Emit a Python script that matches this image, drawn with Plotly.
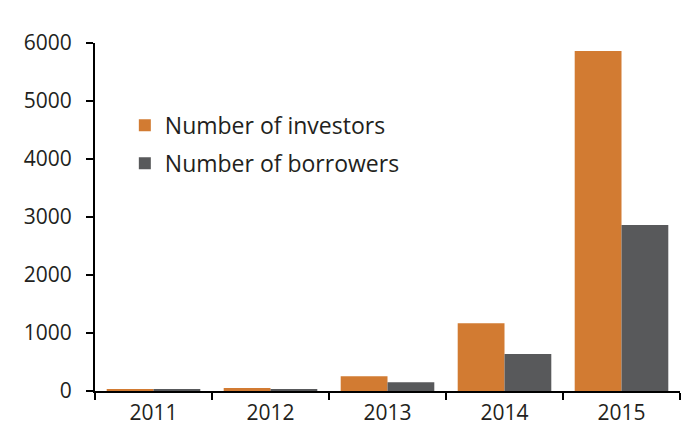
import plotly.graph_objects as go

years = ["2011", "2012", "2013", "2014", "2015"]
investors = [30, 50, 255, 1170, 5860]
borrowers = [20, 20, 150, 640, 2860]

ORANGE = "#D27B32"
GREY = "#58595B"

fig = go.Figure()
fig.add_trace(go.Bar(x=years, y=investors, name="Number of investors",
                     legendgroup="inv",
                     marker=dict(color=ORANGE, line=dict(width=0))))
fig.add_trace(go.Bar(x=years, y=borrowers, name="Number of borrowers",
                     legendgroup="bor",
                     marker=dict(color=GREY, line=dict(width=0))))

font_family = "'Open Sans', sans-serif"
fig.update_layout(
    width=688, height=426,
    margin=dict(l=95, r=8, t=43, b=35),
    paper_bgcolor="white", plot_bgcolor="white",
    barmode="group", bargap=0.2, bargroupgap=0,
    font=dict(family=font_family, size=21, color="#231F20"),
    showlegend=True,
    legend=dict(x=0.051, y=0.825, xanchor="left", yanchor="top",
                bgcolor="rgba(0,0,0,0)", font=dict(size=23),
                itemsizing="constant", tracegroupgap=5, itemwidth=30),
    xaxis=dict(showline=True, linecolor="black", linewidth=2,
               ticks="outside", tickson="boundaries", ticklen=7,
               tickwidth=2, tickcolor="black", showgrid=False,
               automargin=False, ticklabelstandoff=2),
    yaxis=dict(range=[0, 6000], dtick=1000, showline=True, linecolor="black",
               linewidth=2, ticks="outside", ticklen=7, tickwidth=2,
               tickcolor="black", showgrid=False, zeroline=False,
               automargin=False, ticklabelstandoff=10),
)

fig.write_html("out.html")
